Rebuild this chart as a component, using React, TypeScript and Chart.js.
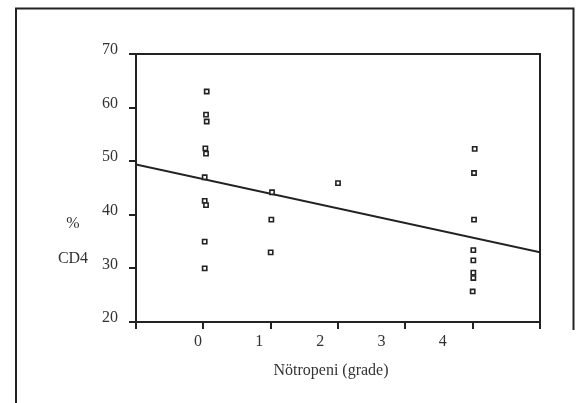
import { useEffect, useRef } from 'react';
import { Chart, registerables } from 'chart.js';

Chart.register(...registerables);

// Scatter values: grade (x, slightly jittered as in the source) and %CD4 (y)
const pointX = [0.05, 0.04, 0.05, 0.03, 0.04, 0.02, 0.02, 0.04, 0.02, 0.02, 1.02, 1.01, 1.0, 2.0, 4.03, 4.02, 4.02, 4.01, 4.01, 4.01, 4.01, 4.0];
const pointY = [63.0, 58.7, 57.4, 52.4, 51.4, 47.0, 42.6, 41.8, 35.0, 30.0, 44.2, 39.1, 33.0, 45.9, 52.3, 47.8, 39.1, 33.4, 31.5, 29.2, 28.2, 25.7];

// Fitted regression line end points
const lineX = [-1, 5];
const lineY = [49.4, 33.0];

// Axis setup
const xMin = -1;
const xMax = 5;
const yMin = 20;
const yMax = 70;
const yStep = 10;
const xTickValues = [0, 1, 2, 3, 4];
const xTickLabels = ['0', '1', '2', '3', '4'];

const yTitleLines = ['%', 'CD4'];
const xTitle = 'Nötropeni (grade)';

const FONT = '"Liberation Serif", "Times New Roman", serif';
const TEXT = '#333333';
const INK = '#222222';

const decor = {
  id: 'decor',
  beforeDraw(chart: any) {
    const ctx = chart.ctx;
    ctx.save();
    ctx.fillStyle = '#ffffff';
    ctx.fillRect(0, 0, chart.width, chart.height);
    ctx.strokeStyle = INK;
    ctx.lineWidth = 2;
    ctx.beginPath();
    ctx.moveTo(16, chart.height);
    ctx.lineTo(16, 8.5);
    ctx.lineTo(573.5, 8.5);
    ctx.lineTo(573.5, 330);
    ctx.stroke();
    ctx.restore();
  },
  afterDraw(chart: any) {
    const ctx = chart.ctx;
    const a = chart.chartArea;
    ctx.save();
    ctx.strokeStyle = INK;
    ctx.lineWidth = 2;
    ctx.beginPath();
    ctx.moveTo(a.left, a.top);
    ctx.lineTo(a.right, a.top);
    ctx.lineTo(a.right, a.bottom);
    ctx.stroke();
    ctx.fillStyle = TEXT;
    ctx.font = `16px ${FONT}`;
    ctx.textAlign = 'center';
    ctx.textBaseline = 'middle';
    ctx.fillText(yTitleLines[0], a.left - 63, a.top + 170);
    ctx.fillText(yTitleLines[1], a.left - 63, a.top + 205);
    ctx.fillText(xTitle, a.left + 195, a.bottom + 49);
    ctx.restore();
  },
};

export default function App() {
  const ref = useRef<HTMLCanvasElement | null>(null);

  useEffect(() => {
    if (!ref.current) return;
    const points = pointX.map((x, i) => ({ x, y: pointY[i] }));
    const line = lineX.map((x, i) => ({ x, y: lineY[i] }));
    const chart = new Chart(ref.current, {
      type: 'scatter',
      data: {
        datasets: [
          {
            label: 'CD4',
            data: points,
            pointStyle: 'rect',
            pointRadius: 3,
            pointBorderWidth: 1.6,
            pointBorderColor: INK,
            pointBackgroundColor: '#ffffff',
            showLine: false,
          },
          {
            label: 'fit',
            type: 'line',
            data: line,
            borderColor: INK,
            borderWidth: 2,
            pointRadius: 0,
            fill: false,
          } as any,
        ],
      },
      options: {
        responsive: false,
        animation: false,
        devicePixelRatio: 1,
        layout: { padding: { left: 0, top: 54, right: 40, bottom: 0 } },
        plugins: {
          legend: { display: false },
          tooltip: { enabled: false },
          title: { display: false },
        },
        scales: {
          x: {
            type: 'linear',
            position: 'bottom',
            min: xMin,
            max: xMax,
            ticks: { display: false, stepSize: 1 },
            grid: { drawOnChartArea: false, drawTicks: true, tickLength: 7, color: INK, lineWidth: 2 },
            border: { display: true, color: INK, width: 2 },
            afterFit: (s: any) => { s.height = 7; },
          },
          x2: {
            type: 'linear',
            position: 'bottom',
            min: -1.015,
            max: 5.592,
            grid: { display: false },
            border: { display: false },
            afterBuildTicks: (s: any) => { s.ticks = xTickValues.map((v) => ({ value: v })); },
            ticks: {
              autoSkip: false,
              padding: -5,
              color: TEXT,
              font: { family: FONT, size: 16 },
              maxRotation: 0,
              callback: (v: any) => {
                const i = xTickValues.indexOf(Number(v));
                return i >= 0 ? xTickLabels[i] : '';
              },
            },
            afterFit: (s: any) => { s.height = 74; },
          },
          y: {
            type: 'linear',
            position: 'left',
            min: yMin,
            max: yMax,
            ticks: {
              stepSize: yStep,
              padding: 11,
              labelOffset: -4,
              color: TEXT,
              font: { family: FONT, size: 16 },
            },
            grid: { drawOnChartArea: false, drawTicks: true, tickLength: 7, color: INK, lineWidth: 2 },
            border: { display: true, color: INK, width: 2 },
            afterFit: (s: any) => { s.width = 136; },
          },
        },
      },
      plugins: [decor],
    });
    return () => chart.destroy();
  }, []);

  return (
    <div style={{ position: 'absolute', left: 0, top: 0, width: 580, height: 403, background: '#fff' }}>
      <canvas ref={ref} width={580} height={403} style={{ display: 'block' }} />
    </div>
  );
}
